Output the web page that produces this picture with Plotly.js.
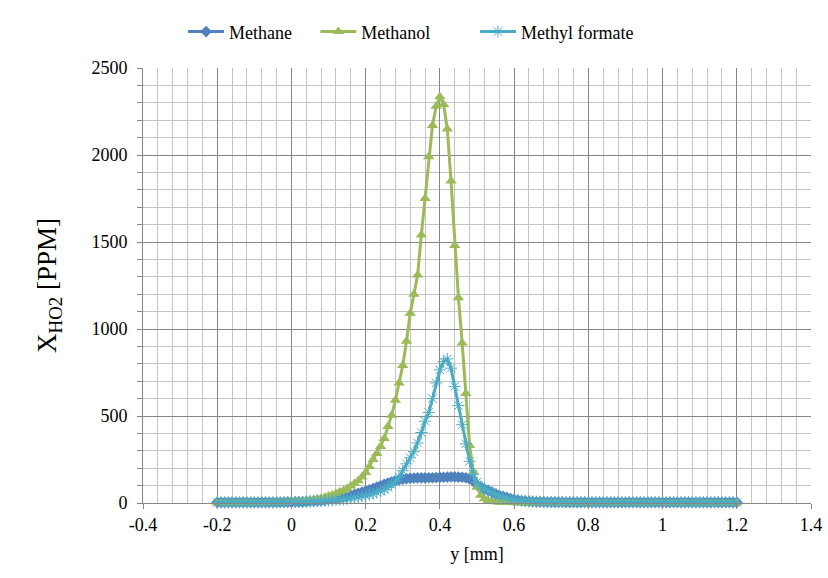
<!DOCTYPE html>
<html>
<head>
<meta charset="utf-8">
<script src="https://cdn.plot.ly/plotly-3.0.1.min.js"></script>
<style>html,body{margin:0;padding:0;background:#fff;}#chart{width:828px;height:578px;}</style>
</head>
<body>
<div id="chart"></div>
<script>
const yPos = [
 -0.20,-0.19,-0.18,-0.17,-0.16,-0.15,-0.14,-0.13,-0.12,-0.11,
 -0.10,-0.09,-0.08,-0.07,-0.06,-0.05,-0.04,-0.03,-0.02,-0.01,
 0.00,0.01,0.02,0.03,0.04,0.05,0.06,0.07,0.08,0.09,
 0.10,0.11,0.12,0.13,0.14,0.15,0.16,0.17,0.18,0.19,
 0.20,0.21,0.22,0.23,0.24,0.25,0.26,0.27,0.28,0.29,
 0.30,0.31,0.32,0.33,0.34,0.35,0.36,0.37,0.38,0.39,
 0.40,0.41,0.42,0.43,0.44,0.45,0.46,0.47,0.48,0.49,
 0.50,0.51,0.52,0.53,0.54,0.55,0.56,0.57,0.58,0.59,
 0.60,0.61,0.62,0.63,0.64,0.65,0.66,0.67,0.68,0.69,
 0.70,0.71,0.72,0.73,0.74,0.75,0.76,0.77,0.78,0.79,
 0.80,0.81,0.82,0.83,0.84,0.85,0.86,0.87,0.88,0.89,
 0.90,0.91,0.92,0.93,0.94,0.95,0.96,0.97,0.98,0.99,
 1.00,1.01,1.02,1.03,1.04,1.05,1.06,1.07,1.08,1.09,
 1.10,1.11,1.12,1.13,1.14,1.15,1.16,1.17,1.18,1.19,1.20
];
const methane = [
 4,4,4,4,4,4,4,4,4,4,
 4,4,4,4,4,4,4,4,5,5,
 5,6,6,7,8,10,11,12,14,16,
 20,22,26,29,33,38,43,49,55,62,
 68,75,83,91,99,107,115,122,128,133,
 137,140,142,143,144,144,144,145,145,146,
 147,148,149,150,150,149,148,145,138,125,
 105,90,80,72,62,52,44,38,32,26,
 20,16,13,11,9,8,7,6,6,5,
 5,5,5,5,4,4,4,4,4,4,
 4,4,4,4,4,4,4,4,4,4,
 4,4,4,4,4,4,4,4,4,4,
 4,4,4,4,4,4,4,4,4,4,
 4,4,4,4,4,4,4,4,4,4,4
];
const methanol = [
 1,1,1,1,1,1,1,1,1,1,
 2,2,2,2,2,3,3,4,5,6,
 7,8,10,12,14,17,20,24,28,33,
 40,46,54,63,72,83,97,112,128,150,
 175,210,250,285,325,370,440,505,590,690,
 790,930,1090,1200,1310,1540,1750,1990,2170,2280,
 2335,2290,2150,1850,1480,1180,920,630,330,180,
 90,45,25,15,10,7,5,4,3,3,
 2,2,2,2,2,2,2,2,2,2,
 2,2,2,2,2,2,2,2,2,2,
 2,2,2,2,2,2,2,2,2,2,
 2,2,2,2,2,2,2,2,2,2,
 2,2,2,2,2,2,2,2,2,2,
 2,2,2,2,2,2,2,2,2,2,2
];
const methylFormate = [
 3,3,3,3,3,3,3,3,3,3,
 3,3,3,3,3,3,4,4,4,4,
 5,5,6,6,7,8,9,10,11,12,
 14,15,17,19,21,24,27,30,33,37,
 42,47,53,60,68,78,90,105,125,150,
 185,225,260,295,345,405,470,520,600,690,
 765,812,828,775,670,560,450,340,240,165,
 120,95,80,70,58,48,40,34,28,23,
 19,16,14,12,10,9,8,7,7,6,
 6,6,5,5,5,5,5,5,5,5,
 4,4,4,4,4,4,4,4,4,4,
 4,4,4,4,4,4,4,4,4,4,
 4,4,4,4,4,4,4,4,4,4,
 4,4,4,4,4,4,4,4,4,4,4
];
const seriesNames = ['Methane', 'Methanol', 'Methyl formate'];
const xTickVals = [-0.4,-0.2,0,0.2,0.4,0.6,0.8,1,1.2,1.4];
const xTickText = ['-0.4','-0.2','0','0.2','0.4','0.6','0.8','1','1.2','1.4'];
const yTickVals = [0,500,1000,1500,2000,2500];

const serif = "'Liberation Serif', 'Times New Roman', serif";
const traces = [
  {x: yPos, y: methane, name: seriesNames[0], mode: 'lines+markers', legend: 'legend',
   line: {color: '#4F81BD', width: 3},
   marker: {symbol: 'diamond', size: 9, color: '#4F81BD'}, cliponaxis: false},
  {x: yPos, y: methanol, name: seriesNames[1], mode: 'lines+markers', legend: 'legend2',
   line: {color: '#9BBB59', width: 3},
   marker: {symbol: 'triangle-up', size: 10, color: '#9BBB59'}, cliponaxis: false},
  {x: yPos, y: methylFormate, name: seriesNames[2], mode: 'lines+markers', legend: 'legend3',
   line: {color: '#4BACC6', width: 3},
   marker: {symbol: 'asterisk-open', size: 10, color: '#4BACC6', line: {color: '#4BACC6', width: 1}}, cliponaxis: false}
];
function legendAt(xFrac) {
  return {orientation: 'h', x: xFrac, xanchor: 'left', y: 1.083, yanchor: 'middle',
          font: {family: serif, size: 18, color: '#000'}, itemwidth: 36,
          bgcolor: 'rgba(0,0,0,0)'};
}
const layout = {
  width: 828, height: 578,
  margin: {l: 143, r: 17, t: 68, b: 75},
  paper_bgcolor: '#fff', plot_bgcolor: '#fff',
  font: {family: serif, size: 17, color: '#000'},
  showlegend: true,
  legend: legendAt(0.060),
  legend2: legendAt(0.258),
  legend3: legendAt(0.497),
  xaxis: {
    range: [-0.4, 1.4], tickvals: xTickVals, ticktext: xTickText,
    showgrid: true, gridcolor: '#858585', gridwidth: 1,
    zeroline: false, showline: true, linecolor: '#868686', linewidth: 1,
    ticks: 'outside', ticklen: 5, tickcolor: '#868686',
    minor: {dtick: 0.04, tick0: -0.4, showgrid: true, gridcolor: '#c4c4c4', gridwidth: 1},
    tickfont: {family: serif, size: 18, color: '#000'},
    title: {text: 'y [mm]', font: {family: serif, size: 18, color: '#000'}, standoff: 13}
  },
  yaxis: {
    range: [0, 2500], tickvals: yTickVals,
    showgrid: true, gridcolor: '#858585', gridwidth: 1,
    zeroline: false, showline: true, linecolor: '#868686', linewidth: 1,
    ticks: 'outside', ticklen: 5, tickcolor: '#868686', ticklabelstandoff: 6,
    minor: {dtick: 100, showgrid: true, gridcolor: '#c4c4c4', gridwidth: 1, ticks: 'outside', ticklen: 5, tickcolor: '#868686'},
    tickfont: {family: serif, size: 18, color: '#000'},
    title: {text: 'X<sub>HO2</sub> [PPM]', font: {family: serif, size: 27, color: '#000'}, standoff: 26}
  }
};
Plotly.newPlot('chart', traces, layout, {displayModeBar: false, staticPlot: true});
</script>
</body>
</html>
